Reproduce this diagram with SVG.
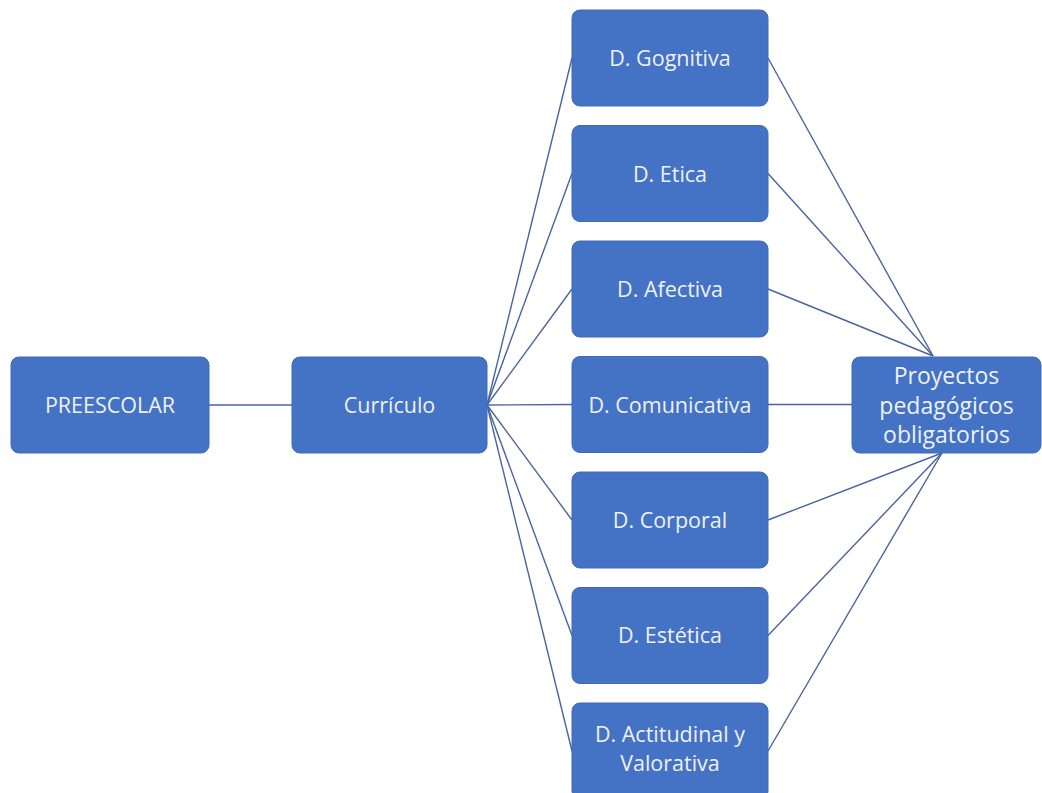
<svg xmlns="http://www.w3.org/2000/svg" width="1042" height="793" viewBox="0 0 1042 793">
<style>
.n{fill:#4472C4;stroke:#3F6AB8;stroke-width:1}
.t{fill:#EEF1F7;font-family:"Open Sans","Liberation Sans",sans-serif;font-size:21.5px;font-weight:500;text-anchor:middle;dominant-baseline:central}
.p{font-size:23px}
.c line{stroke:#4A64A0;stroke-width:1.4}
</style>
<rect width="1042" height="793" fill="#FFFFFF"/>
<g class="c" id="connectors">
<line x1="209" y1="405" x2="292" y2="405"/>
<line x1="487" y1="405" x2="572" y2="58"/>
<line x1="487" y1="405" x2="572" y2="173.5"/>
<line x1="487" y1="405" x2="572" y2="289"/>
<line x1="487" y1="405" x2="572" y2="404.5"/>
<line x1="487" y1="405" x2="572" y2="520"/>
<line x1="487" y1="405" x2="572" y2="635.5"/>
<line x1="487" y1="405" x2="572" y2="751"/>
<line x1="768" y1="58" x2="933" y2="356"/>
<line x1="768" y1="173.5" x2="933" y2="356"/>
<line x1="768" y1="289" x2="933" y2="356"/>
<line x1="768" y1="404.5" x2="852" y2="404.5"/>
<line x1="768" y1="520" x2="942" y2="453"/>
<line x1="768" y1="635.5" x2="942" y2="453"/>
<line x1="768" y1="751" x2="942" y2="453"/>
</g>
<g id="preescolar"><rect class="n" x="11" y="357" width="198" height="96" rx="8"/><text class="t" x="110" y="404">PREESCOLAR</text></g>
<g id="curriculo"><rect class="n" x="292" y="357" width="195" height="96" rx="8"/><text class="t" x="389.5" y="404">Currículo</text></g>
<g id="gognitiva"><rect class="n" x="572" y="10" width="196" height="96" rx="8"/><text class="t" x="670" y="57">D. Gognitiva</text></g>
<g id="etica"><rect class="n" x="572" y="125.5" width="196" height="96" rx="8"/><text class="t" x="670" y="173">D. Etica</text></g>
<g id="afectiva"><rect class="n" x="572" y="241" width="196" height="96" rx="8"/><text class="t" x="670" y="288">D. Afectiva</text></g>
<g id="comunicativa"><rect class="n" x="572" y="356.5" width="196" height="96" rx="8"/><text class="t" x="670" y="404">D. Comunicativa</text></g>
<g id="corporal"><rect class="n" x="572" y="472" width="196" height="96" rx="8"/><text class="t" x="670" y="519">D. Corporal</text></g>
<g id="estetica"><rect class="n" x="572" y="587.5" width="196" height="96" rx="8"/><text class="t" x="670" y="634">D. Estética</text></g>
<g id="actitudinal"><rect class="n" x="572" y="703" width="196" height="96" rx="8"/><text class="t" x="670" y="733">D. Actitudinal y</text><text class="t" x="670" y="762">Valorativa</text></g>
<g id="proyectos"><rect class="n" x="852" y="357" width="189" height="96" rx="8"/><text class="t p" x="946.5" y="375">Proyectos</text><text class="t p" x="946.5" y="405">pedagógicos</text><text class="t p" x="946.5" y="434">obligatorios</text></g>
</svg>
